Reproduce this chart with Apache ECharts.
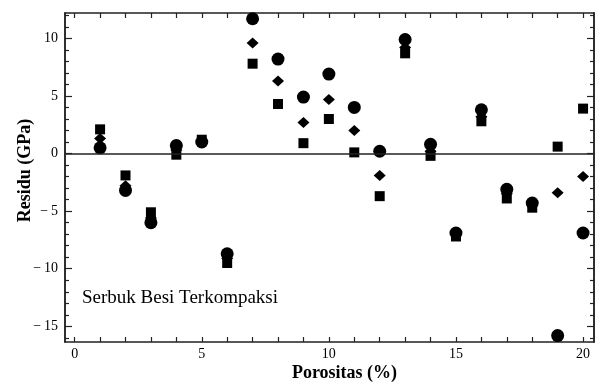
<!DOCTYPE html>
<html>
<head>
<meta charset="utf-8">
<script src="https://cdn.jsdelivr.net/npm/echarts@6.0.0/dist/echarts.min.js"></script>
<style>
  html, body { margin: 0; padding: 0; background: #fff; }
  #chart { width: 598px; height: 385px; }
</style>
</head>
<body>
<div id="chart"></div>
<script>
// Porosity (%) for each sample
const porositas = [1, 2, 3, 4, 5, 6, 7, 8, 9, 10, 11, 12, 13, 14, 15, 16, 17, 18, 19, 20];
// Residuals (GPa) for the three models
const residuCircle = [0.5, -3.2, -6.0, 0.7, 1.0, -8.7, 11.7, 8.2, 4.9, 6.9, 4.0, 0.2, 9.9, 0.8, -6.9, 3.8, -3.1, -4.3, -15.8, -6.9];
const residuDiamond = [1.3, -2.8, -5.6, 0.3, 1.0, -9.1, 9.6, 6.3, 2.7, 4.7, 2.0, -1.9, 9.2, 0.2, -7.0, 3.2, -3.5, -4.5, -3.4, -2.0];
const residuSquare = [2.1, -1.9, -5.1, -0.1, 1.2, -9.5, 7.8, 4.3, 0.9, 3.0, 0.1, -3.7, 8.7, -0.2, -7.2, 2.8, -3.9, -4.7, 0.6, 3.9];

// Tick positions
const xMajorTicks = [0, 5, 10, 15, 20];
const xAllTicks = [0, 1, 2, 3, 4, 5, 6, 7, 8, 9, 10, 11, 12, 13, 14, 15, 16, 17, 18, 19, 20];
const yMajorTicks = [-15, -10, -5, 0, 5, 10];
const yMinorTicks = [-16, -14, -13, -12, -11, -9, -8, -7, -6, -4, -3, -2, -1, 1, 2, 3, 4, 6, 7, 8, 9, 11, 12];

const X_MIN = -0.38, X_MAX = 20.43;
const Y_MIN = -16.36, Y_MAX = 12.2;
const FONT = "'Liberation Serif', 'DejaVu Serif', serif";
const INK = '#000';

const pairs = ys => porositas.map((x, i) => [x, ys[i]]);

const frameLine = { show: true, onZero: false, lineStyle: { color: '#222', width: 1.5 } };

function xAxisDef(pos, withLabels) {
  return {
    type: 'value', position: pos, min: X_MIN, max: X_MAX,
    axisLine: frameLine,
    axisTick: { show: true, inside: true, length: 5, customValues: xAllTicks, lineStyle: { color: '#222', width: 1.2 } },
    axisLabel: withLabels
      ? { show: true, customValues: xMajorTicks, color: INK, fontFamily: FONT, fontSize: 14, margin: 5 }
      : { show: false },
    splitLine: { show: false },
    name: withLabels ? 'Porositas (%)' : '',
    nameLocation: 'middle', nameGap: 22, nameMoveOverlap: false,
    nameTextStyle: { color: INK, fontFamily: FONT, fontSize: 18, fontWeight: 'bold', padding: [0, 0, 0, 30] }
  };
}

function yAxisDef(pos, ticks, len, withLabels) {
  return {
    type: 'value', position: pos, offset: 0, min: Y_MIN, max: Y_MAX,
    axisLine: frameLine,
    axisTick: { show: true, inside: true, length: len, customValues: ticks, lineStyle: { color: '#222', width: 1.2 } },
    axisLabel: withLabels
      ? {
          show: true, customValues: yMajorTicks, color: INK, fontFamily: FONT, fontSize: 14, margin: 7,
          formatter: v => (v < 0 ? '\u2212\u2009' + Math.abs(v) : String(v))
        }
      : { show: false },
    splitLine: { show: false },
    name: withLabels ? 'Residu (GPa)' : '',
    nameLocation: 'middle', nameGap: 31, nameRotate: 90, nameMoveOverlap: false,
    nameTextStyle: { color: INK, fontFamily: FONT, fontSize: 18, fontWeight: 'bold', padding: [0, 0, 0, 14] }
  };
}

const markerStyle = { color: INK, opacity: 1 };

const chart = echarts.init(document.getElementById('chart'), null, { renderer: 'canvas' });
chart.setOption({
  animation: false,
  backgroundColor: '#fff',
  grid: { left: 65, right: 4, top: 13, bottom: 43, outerBoundsMode: 'none', containLabel: false },
  xAxis: [xAxisDef('bottom', true), xAxisDef('top', false)],
  yAxis: [
    yAxisDef('left', yMajorTicks, 7, true),
    yAxisDef('left', yMinorTicks, 4, false),
    yAxisDef('right', yMajorTicks, 7, false),
    yAxisDef('right', yMinorTicks, 4, false)
  ],
  graphic: [{
    type: 'text', left: 82, top: 289,
    style: { text: 'Serbuk Besi Terkompaksi', fill: INK, font: "19px 'Liberation Serif', serif" }
  }],
  series: [
    {
      type: 'scatter', name: 'circle', symbol: 'circle', symbolSize: 13,
      itemStyle: markerStyle, data: pairs(residuCircle),
      markLine: {
        silent: true, symbol: 'none', label: { show: false },
        lineStyle: { color: '#222', width: 1.5, type: 'solid' },
        data: [{ yAxis: 0 }]
      }
    },
    {
      type: 'scatter', name: 'diamond', symbol: 'diamond', symbolSize: [12, 11],
      itemStyle: markerStyle, data: pairs(residuDiamond)
    },
    {
      type: 'scatter', name: 'square', symbol: 'rect', symbolSize: 10,
      itemStyle: markerStyle, data: pairs(residuSquare)
    }
  ]
});
</script>
</body>
</html>
